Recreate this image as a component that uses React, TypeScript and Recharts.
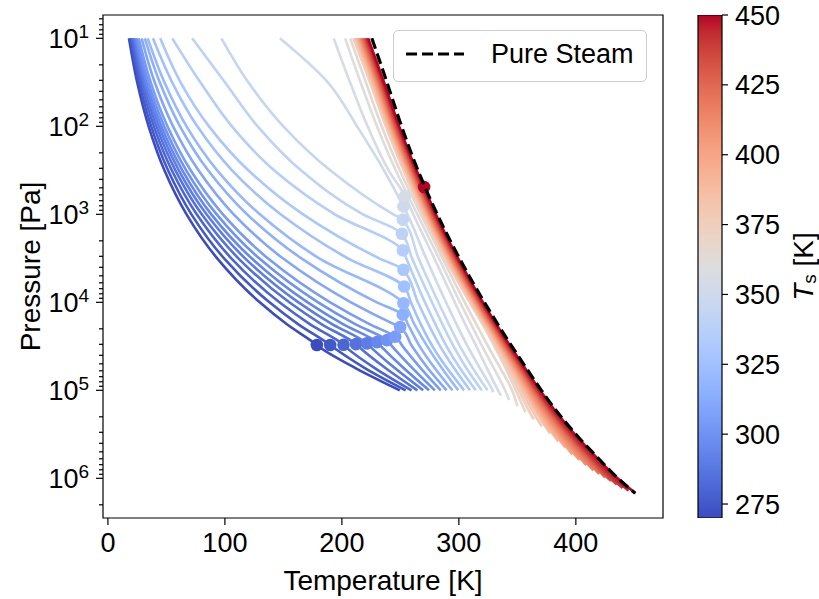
import React from 'react';
import {
  ComposedChart,
  BarChart,
  Bar,
  Line,
  Scatter,
  XAxis,
  YAxis,
  ReferenceArea,
  Legend,
  Label,
} from 'recharts';

const FONT = '"Liberation Sans", Arial, sans-serif';

// surface temperature of every profile [K]
const TS = [
  270, 275, 280, 285, 290, 295, 300, 305, 310, 315, 320, 325, 330, 335, 340, 345, 350, 355, 360,
  365, 370, 375, 380, 385, 390, 395, 400, 405, 410, 415, 420, 425, 430, 435, 440, 445, 450,
];

// pressure levels the profiles are read at [Pa]
const P_LEVELS = [10, 31.6, 100, 316, 1000, 3162, 10000, 17783, 31623, 56234, 100000, 177828, 316228, 562341, 1000000];

// temperature [K] of each profile at P_LEVELS (null = below the surface)
const T_PROFILES: (number | null)[][] = [
  [18.0, 25.0, 34.8, 48.3, 67.2, 93.4, 129.8, 153.0, 180.0, 212.0, null, null, null, null, null],
  [19.2, 26.6, 37.0, 51.4, 71.4, 99.3, 138.1, 162.8, 191.5, 220.0, null, null, null, null, null],
  [20.3, 28.3, 39.3, 54.6, 75.9, 105.5, 146.6, 172.9, 202.8, 228.5, null, null, null, null, null],
  [21.5, 29.9, 41.5, 57.7, 80.2, 111.5, 155.0, 182.8, 214.0, 237.5, null, null, null, null, null],
  [22.6, 31.4, 43.6, 60.6, 84.3, 117.2, 162.9, 192.0, 224.0, 245.5, null, null, null, null, null],
  [23.7, 32.9, 45.7, 63.6, 88.4, 122.9, 170.8, 201.3, 233.5, 253.0, null, null, null, null, null],
  [24.9, 34.6, 48.1, 66.9, 93.0, 129.3, 179.7, 211.8, 243.0, 260.5, null, null, null, null, null],
  [26.3, 36.6, 50.9, 70.7, 98.3, 136.7, 190.0, 224.0, 252.0, 267.5, null, null, null, null, null],
  [28.8, 40.0, 55.7, 77.4, 107.5, 149.5, 207.8, 244.9, 260.0, 273.5, null, null, null, null, null],
  [31.5, 44.3, 61.6, 85.6, 119.0, 165.4, 229.9, 256.5, 266.5, 279.5, null, null, null, null, null],
  [34.0, 48.3, 67.2, 93.4, 129.9, 180.5, 251.9, 262.0, 273.0, 285.5, null, null, null, null, null],
  [38.5, 54.9, 76.4, 106.1, 147.6, 205.1, 259.0, 267.5, 277.5, 290.0, null, null, null, null, null],
  [44.7, 62.1, 86.4, 120.0, 166.8, 231.9, 265.0, 274.0, 284.0, 296.0, null, null, null, null, null],
  [55.0, 79.0, 106.0, 142.0, 194.0, 255.0, 271.0, 280.0, 289.5, 301.0, null, null, null, null, null],
  [72.0, 100.0, 128.0, 165.0, 218.0, 260.0, 277.0, 286.0, 295.5, 306.5, null, null, null, null, null],
  [97.0, 120.0, 150.0, 190.0, 244.0, 265.5, 282.5, 291.5, 301.0, 312.0, null, null, null, null, null],
  [147.0, 188.0, 213.0, 236.0, 256.0, 272.0, 289.0, 298.0, 307.5, 318.0, 328.8, null, null, null, null],
  [193.0, 207.0, 222.0, 240.0, 261.0, 279.0, 296.5, 305.5, 315.0, 324.0, 333.5, null, null, null, null],
  [202.8, 216.0, 230.0, 246.0, 264.5, 283.0, 301.0, 310.5, 320.0, 330.0, 339.5, null, null, null, null],
  [207.1, 220.5, 234.0, 249.5, 267.5, 286.0, 305.0, 315.0, 325.0, 335.5, 345.5, null, null, null, null],
  [209.7, 224.0, 237.5, 252.6, 269.1, 288.1, 309.3, 320.3, 330.5, 340.1, 348.6, null, null, null, null],
  [210.5, 224.8, 238.2, 253.3, 269.8, 288.8, 310.0, 321.1, 331.7, 341.8, 351.1, 360.6, null, null, null],
  [211.3, 225.5, 238.9, 254.0, 270.5, 289.5, 310.7, 321.9, 332.8, 343.3, 353.3, 363.6, null, null, null],
  [212.1, 226.3, 239.6, 254.7, 271.2, 290.2, 311.4, 322.7, 333.7, 344.7, 355.2, 366.2, null, null, null],
  [212.9, 227.0, 240.4, 255.4, 271.9, 290.9, 312.1, 323.4, 334.6, 345.7, 356.5, 367.8, 380.5, null, null],
  [213.7, 227.8, 241.1, 256.1, 272.6, 291.6, 312.8, 324.2, 335.4, 346.7, 357.7, 369.3, 382.3, null, null],
  [214.5, 228.5, 241.8, 256.8, 273.3, 292.3, 313.5, 324.9, 336.2, 347.6, 358.7, 370.4, 383.6, null, null],
  [215.3, 229.3, 242.5, 257.5, 274.0, 293.0, 314.2, 325.6, 337.0, 348.5, 359.9, 371.9, 385.5, 400.4, null],
  [216.1, 230.0, 243.2, 258.2, 274.7, 293.7, 314.9, 326.3, 337.8, 349.5, 361.0, 373.3, 387.2, 402.5, null],
  [216.9, 230.8, 244.0, 258.9, 275.4, 294.4, 315.6, 327.1, 338.6, 350.4, 362.2, 374.7, 388.8, 404.5, null],
  [217.7, 231.5, 244.7, 259.6, 276.1, 295.1, 316.3, 327.8, 339.4, 351.4, 363.3, 376.1, 390.5, 406.5, null],
  [218.5, 232.3, 245.4, 260.3, 276.8, 295.8, 317.0, 328.5, 340.2, 352.3, 364.4, 377.4, 392.1, 408.5, null],
  [219.3, 233.0, 246.1, 261.0, 277.5, 296.5, 317.7, 329.2, 341.0, 353.2, 365.4, 378.6, 393.5, 410.1, 427.5],
  [220.1, 233.8, 246.8, 261.7, 278.2, 297.2, 318.4, 329.9, 341.8, 354.0, 366.3, 379.6, 394.7, 411.4, 429.1],
  [220.9, 234.5, 247.6, 262.4, 278.9, 297.9, 319.1, 330.6, 342.5, 354.7, 367.1, 380.5, 395.8, 412.8, 430.7],
  [221.7, 235.3, 248.3, 263.1, 279.6, 298.6, 319.8, 331.3, 343.2, 355.6, 368.2, 381.8, 397.3, 414.6, 433.0],
  [222.5, 236.0, 249.0, 263.8, 280.3, 299.3, 320.6, 332.1, 344.1, 356.6, 369.4, 383.3, 399.1, 416.8, 435.6],
];

// bottom end of each profile
const SURFACE_T = [
  249.5, 254.5, 259.5, 264.5, 269.5, 274.5, 279.5, 284.5, 289.5, 294.5, 299.5, 304.5, 309.5, 314.5,
  319.5, 324.5, 329.5, 336, 343, 350, 357, 364, 371, 378, 385, 391, 397, 403, 409, 415, 420, 425,
  430, 435, 440, 445, 451,
];
const SURFACE_P = [
  100000, 100000, 100000, 100000, 100000, 100000, 100000, 100000, 100000, 100000, 100000, 100000,
  100000, 100000, 100000, 100000, 104713, 114815, 128825, 151356, 177828, 213796, 257040, 309030,
  380189, 446684, 537032, 616595, 707946, 812831, 891251, 977237, 1071519, 1174898, 1288250,
  1380384, 1479108,
];

// marked point on each profile (null = not visible)
const DOT_T = [
  178.6, 190.0, 201.4, 212.0, 221.4, 230.0, 238.5, 245.6, 249.8, 252.1, 252.6, 253.2, 252.6, 252.1,
  251.3, 252.1, 252.6, 254.0, null, null, null, null, null, null, null, null, null, null, null,
  null, null, null, null, null, null, null, 270.3,
];
const DOT_P = [
  30549, 30549, 30339, 29854, 29242, 28314, 26915, 24547, 19055, 13804, 10233, 6607, 4266, 2570,
  1660, 1148, 813, 617, null, null, null, null, null, null, null, null, null, null, null, null,
  null, null, null, null, null, null, 490,
];

// pure steam curve
const STEAM_T = [225.6, 238.5, 251.0, 265.0, 281.5, 300.5, 321.8, 333.3, 345.3, 357.8, 370.5, 384.3, 400.0, 417.5, 436.0, 450.7];
const STEAM_P = [10, 31.6, 100, 316, 1000, 3162, 10000, 17783, 31623, 56234, 100000, 177828, 316228, 562341, 1000000, 1479108];

const X_TICKS = [0, 100, 200, 300, 400];
const Y_TICKS = [
  6, 7, 8, 9, 10, 20, 30, 40, 50, 60, 70, 80, 90, 100, 200, 300, 400, 500, 600, 700, 800, 900,
  1000, 2000, 3000, 4000, 5000, 6000, 7000, 8000, 9000, 10000, 20000, 30000, 40000, 50000, 60000,
  70000, 80000, 90000, 100000, 200000, 300000, 400000, 500000, 600000, 700000, 800000, 900000,
  1000000, 2000000,
];
const CB_TICKS = [275, 300, 325, 350, 375, 400, 425, 450];

const X_DOMAIN: [number, number] = [-4.2, 474.5];
const Y_DOMAIN: [number, number] = [5.43, 2825000];
const TS_RANGE: [number, number] = [270, 450];

const PLOT_LEFT = 103;
const PLOT_RIGHT = 663;
const PLOT_TOP = 15;
const PLOT_BOTTOM = 518;
const CB_LEFT = 698;
const CB_RIGHT = 722;

// matplotlib coolwarm
const COOLWARM = [
  [59, 76, 192], [68, 90, 204], [77, 104, 215], [87, 117, 225], [98, 130, 234], [108, 142, 241],
  [119, 154, 247], [130, 165, 251], [141, 176, 254], [152, 185, 255], [163, 194, 255],
  [174, 201, 253], [184, 208, 249], [194, 213, 244], [204, 217, 238], [213, 219, 230],
  [221, 221, 221], [229, 216, 209], [236, 211, 197], [241, 204, 185], [245, 196, 173],
  [247, 187, 160], [247, 177, 148], [247, 166, 135], [244, 154, 123], [241, 141, 111],
  [236, 127, 99], [229, 112, 88], [222, 96, 77], [213, 80, 66], [203, 62, 56], [192, 40, 47],
  [180, 4, 38],
];

const coolwarm = (t: number) => {
  const x = Math.max(0, Math.min(1, t)) * 32;
  const k = Math.min(31, Math.floor(x));
  const f = x - k;
  const a = COOLWARM[k];
  const b = COOLWARM[k + 1];
  const c = a.map((v, j) => Math.round(v + (b[j] - v) * f));
  return `rgb(${c[0]},${c[1]},${c[2]})`;
};

const curves = TS.map((ts, i) => {
  const pts: { t: number; p: number }[] = [];
  T_PROFILES[i].forEach((t, k) => {
    if (t !== null) pts.push({ t, p: P_LEVELS[k] });
  });
  if (DOT_T[i] !== null) pts.push({ t: DOT_T[i] as number, p: DOT_P[i] as number });
  pts.push({ t: SURFACE_T[i], p: SURFACE_P[i] });
  pts.sort((a, b) => a.p - b.p);
  return { ts, color: coolwarm((ts - TS_RANGE[0]) / (TS_RANGE[1] - TS_RANGE[0])), points: pts };
});

const dotData = curves
  .map((c, i) => (DOT_T[i] === null ? null : { t: DOT_T[i], p: DOT_P[i], color: c.color }))
  .filter((d) => d !== null);

const steamData = STEAM_T.map((t, k) => ({ t, p: STEAM_P[k] }));

const TempTick = ({ x, payload }: any) => (
  <g>
    <line x1={x} x2={x} y1={PLOT_BOTTOM} y2={PLOT_BOTTOM + 7} stroke="#000" strokeWidth={1.2} />
    <text x={x} y={552} textAnchor="middle" fontSize={27} fontFamily={FONT} fill="#000">
      {payload.value}
    </text>
  </g>
);

const PressureTick = ({ y, payload }: any) => {
  const v = payload.value as number;
  const exp = Math.round(Math.log10(v));
  const major = Math.abs(Math.log10(v) - exp) < 1e-6;
  return (
    <g>
      <line x1={PLOT_LEFT - (major ? 7 : 4)} x2={PLOT_LEFT} y1={y} y2={y} stroke="#000" strokeWidth={1.2} />
      {major && (
        <text x={PLOT_LEFT - 14} y={y + 10} textAnchor="end" fontSize={27} fontFamily={FONT} fill="#000">
          10
          <tspan dy={-10} fontSize={19}>
            {exp}
          </tspan>
        </text>
      )}
    </g>
  );
};

const ColorbarTick = ({ y, payload }: any) => (
  <g>
    <line x1={CB_RIGHT} x2={CB_RIGHT + 6} y1={y} y2={y} stroke="#000" strokeWidth={1.2} />
    <text x={CB_RIGHT + 13} y={y + 9.5} fontSize={27} fontFamily={FONT} fill="#000">
      {payload.value}
    </text>
  </g>
);

const SteamLegend = () => (
  <div
    style={{
      width: 254,
      height: 52,
      boxSizing: 'border-box',
      border: '1px solid #cccccc',
      borderRadius: 5,
      background: 'rgba(255,255,255,0.8)',
      position: 'relative',
      fontFamily: FONT,
      fontSize: 27,
      color: '#000',
    }}
  >
    <svg width={80} height={50} style={{ position: 'absolute', left: 0, top: 0 }}>
      <line x1={12} x2={70} y1={23} y2={23} stroke="#000" strokeWidth={3} strokeDasharray="11 5" />
    </svg>
    <span style={{ position: 'absolute', left: 97, top: 6, lineHeight: '34px', whiteSpace: 'nowrap' }}>
      Pure Steam
    </span>
  </div>
);

export default function App() {
  return (
    <div style={{ position: 'absolute', left: 0, top: 0, width: 819, height: 599, background: '#fff' }}>
      <div style={{ position: 'absolute', left: 0, top: 0 }}>
        <ComposedChart
          width={819}
          height={599}
          margin={{ top: PLOT_TOP, right: 819 - PLOT_RIGHT, bottom: 0, left: 0 }}
        >
          <XAxis
            dataKey="t"
            type="number"
            domain={X_DOMAIN}
            ticks={X_TICKS}
            interval={0}
            allowDataOverflow
            axisLine={false}
            tickLine={false}
            tick={<TempTick />}
            height={599 - PLOT_BOTTOM}
          >
            <Label
              content={() => (
                <text x={(PLOT_LEFT + PLOT_RIGHT) / 2} y={590} textAnchor="middle" fontSize={28} fontFamily={FONT} fill="#000">
                  Temperature [K]
                </text>
              )}
            />
          </XAxis>
          <YAxis
            dataKey="p"
            type="number"
            scale="log"
            domain={Y_DOMAIN}
            reversed
            ticks={Y_TICKS}
            interval={0}
            allowDataOverflow
            axisLine={false}
            tickLine={false}
            tick={<PressureTick />}
            width={PLOT_LEFT}
          >
            <Label
              content={() => (
                <text
                  x={30}
                  y={(PLOT_TOP + PLOT_BOTTOM) / 2}
                  transform={`rotate(-90, 30, ${(PLOT_TOP + PLOT_BOTTOM) / 2})`}
                  textAnchor="middle"
                  dominantBaseline="central"
                  fontSize={28}
                  fontFamily={FONT}
                  fill="#000"
                >
                  Pressure [Pa]
                </text>
              )}
            />
          </YAxis>
          {curves.map((c) => (
            <Line
              key={c.ts}
              data={c.points}
              dataKey="p"
              name={`Ts ${c.ts}`}
              type="monotoneY"
              stroke={c.color}
              strokeWidth={2.6}
              dot={false}
              activeDot={false}
              isAnimationActive={false}
              legendType="none"
            />
          ))}
          <Scatter
            data={dotData}
            dataKey="p"
            isAnimationActive={false}
            legendType="none"
            shape={(props: any) => <circle cx={props.cx} cy={props.cy} r={6.3} fill={props.payload.color} />}
          />
          <Line
            data={steamData}
            dataKey="p"
            name="Pure Steam"
            type="monotoneY"
            stroke="#000"
            strokeWidth={3.2}
            strokeDasharray="11 5"
            dot={false}
            activeDot={false}
            isAnimationActive={false}
            zIndex={700}
          />
          <ReferenceArea
            x1={X_DOMAIN[0]}
            x2={X_DOMAIN[1]}
            y1={Y_DOMAIN[0]}
            y2={Y_DOMAIN[1]}
            fill="none"
            fillOpacity={0}
            stroke="#000"
            strokeWidth={1.2}
            ifOverflow="visible"
          />
          <Legend
            layout="horizontal"
            verticalAlign="middle"
            align="center"
            content={<SteamLegend />}
            wrapperStyle={{ top: 30, left: 393, width: 254, height: 52 }}
          />
        </ComposedChart>
      </div>
      <div style={{ position: 'absolute', left: 0, top: 0 }}>
        <BarChart
          width={819}
          height={599}
          data={[{ name: 'Ts', range: TS_RANGE }]}
          margin={{ top: PLOT_TOP, right: 0, bottom: 599 - PLOT_BOTTOM, left: CB_LEFT }}
          barCategoryGap={0}
        >
          <defs>
            <linearGradient id="cbGrad" x1="0" y1="1" x2="0" y2="0">
              {COOLWARM.map((c, k) => (
                <stop key={k} offset={k / 32} stopColor={`rgb(${c[0]},${c[1]},${c[2]})`} />
              ))}
            </linearGradient>
          </defs>
          <XAxis dataKey="name" hide />
          <YAxis
            orientation="right"
            type="number"
            domain={TS_RANGE}
            ticks={CB_TICKS}
            interval={0}
            allowDataOverflow
            axisLine={false}
            tickLine={false}
            tick={<ColorbarTick />}
            width={819 - CB_RIGHT}
          >
            <Label
              content={() => (
                <text
                  x={803}
                  y={(PLOT_TOP + PLOT_BOTTOM) / 2}
                  transform={`rotate(-90, 803, ${(PLOT_TOP + PLOT_BOTTOM) / 2})`}
                  textAnchor="middle"
                  dominantBaseline="central"
                  fontSize={28}
                  fontFamily={FONT}
                  fill="#000"
                >
                  <tspan fontStyle="italic">T</tspan>
                  <tspan fontSize={19} dy={6}>
                    s
                  </tspan>
                  <tspan dy={-6}> [K]</tspan>
                </text>
              )}
            />
          </YAxis>
          <Bar dataKey="range" fill="url(#cbGrad)" stroke="#000" strokeWidth={1.2} isAnimationActive={false} />
        </BarChart>
      </div>
    </div>
  );
}
